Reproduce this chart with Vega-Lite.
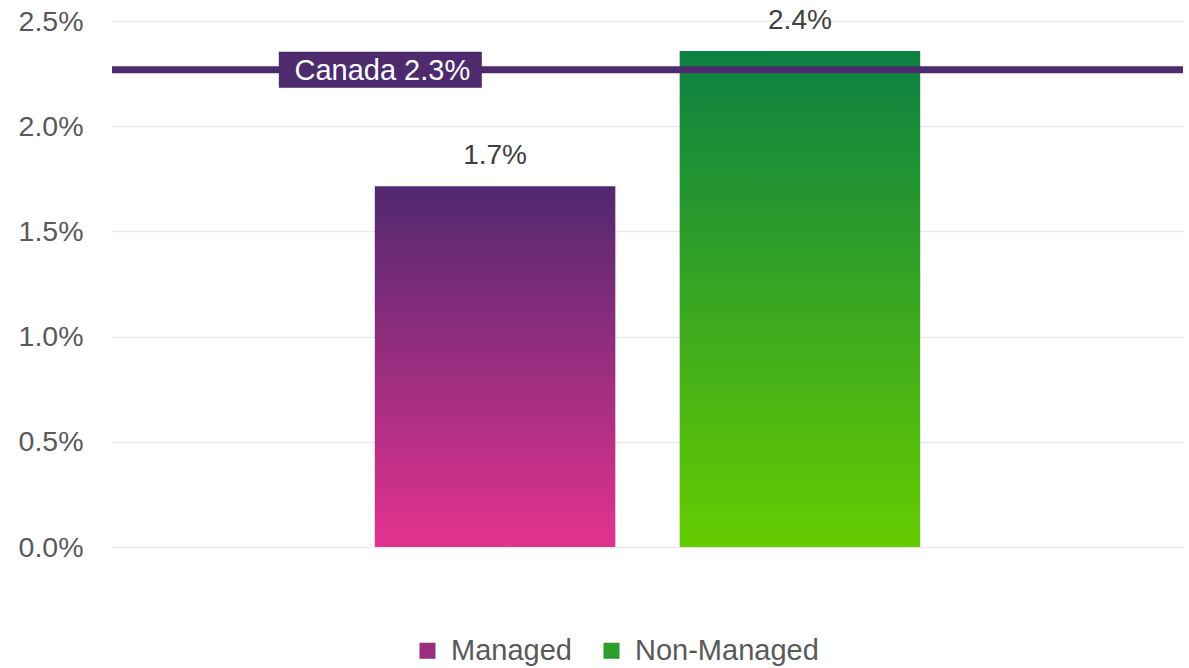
{
  "$schema": "https://vega.github.io/schema/vega-lite/v6.json",
  "width": 1071,
  "height": 526,
  "autosize": {"type": "none"},
  "padding": {"left": 112, "top": 21, "right": 6, "bottom": 121},
  "background": "white",
  "config": {
    "view": {"stroke": null},
    "font": "Liberation Sans"
  },
  "datasets": {
    "bars": [
      {"type": "Managed", "value": 0.01714},
      {"type": "Non-Managed", "value": 0.02358}
    ],
    "bench": [
      {"label": "Canada 2.3%", "cat": "Managed", "value": 0.02268}
    ]
  },
  "layer": [
    {
      "data": {"name": "bars"},
      "mark": {"type": "bar", "opacity": 0},
      "encoding": {
        "x": {"field": "type", "type": "nominal", "axis": null,
              "scale": {"paddingInner": 0.211, "paddingOuter": 0.862}},
        "y": {"field": "value", "type": "quantitative",
              "scale": {"domain": [0, 0.025], "nice": false},
              "axis": {"values": [0, 0.005, 0.01, 0.015, 0.02, 0.025], "format": ".1%",
                       "title": null, "domain": false, "ticks": false, "tickSize": 0,
                       "labelPadding": 29, "labelFontSize": 28.5, "labelColor": "#595959",
                       "labelFont": "Liberation Sans",
                       "gridColor": "#EAEAEA", "gridWidth": 1.5}},
        "color": {"field": "type", "type": "nominal",
                  "scale": {"range": ["#9A2D7F", "#2E9E2A"]},
                  "legend": {"title": null, "orient": "none", "direction": "horizontal",
                             "legendX": 301, "legendY": 615, "padding": 0,
                             "symbolType": "square", "symbolSize": 256,
                             "symbolStrokeWidth": 0, "symbolOpacity": 1, "labelOffset": 9, "columnPadding": 25,
                             "labelFontSize": 29, "labelColor": "#595959", "labelLimit": 400,
                             "labelFont": "Liberation Sans",
                             "encode": {"symbols": {"update": {
                               "opacity": {"value": 1},
                               "fill": [
                                 {"test": "datum.value === 'Managed'",
                                  "value": {"gradient": "linear", "x1": 0, "y1": 0, "x2": 1, "y2": 0,
                                            "stops": [{"offset": 0, "color": "#E3338F"}, {"offset": 1, "color": "#512870"}]}},
                                 {"value": {"gradient": "linear", "x1": 0, "y1": 0, "x2": 1, "y2": 0,
                                            "stops": [{"offset": 0, "color": "#66CC00"}, {"offset": 1, "color": "#0B8043"}]}}
                               ]
                             }}}}}
      }
    },
    {
      "data": {"name": "bars"},
      "mark": {"type": "bar"},
      "encoding": {
        "x": {"field": "type", "type": "nominal"},
        "y": {"field": "value", "type": "quantitative"},
        "fill": {
          "condition": {"test": "datum.type === 'Managed'",
                        "value": {"gradient": "linear", "x1": 0, "y1": 0, "x2": 0, "y2": 1,
                                  "stops": [{"offset": 0, "color": "#512870"}, {"offset": 1, "color": "#E3338F"}]}},
          "value": {"gradient": "linear", "x1": 0, "y1": 0, "x2": 0, "y2": 1,
                    "stops": [{"offset": 0, "color": "#0B8043"}, {"offset": 1, "color": "#66CC00"}]}
        }
      }
    },
    {
      "data": {"name": "bars"},
      "mark": {"type": "text", "baseline": "alphabetic", "dy": -22, "fontSize": 28, "color": "#404040", "font": "Liberation Sans"},
      "encoding": {
        "x": {"field": "type", "type": "nominal"},
        "y": {"field": "value", "type": "quantitative"},
        "text": {"field": "value", "type": "quantitative", "format": ".1%"}
      }
    },
    {
      "data": {"name": "bench"},
      "mark": {"type": "rule", "strokeWidth": 7, "color": "#4E2A6F"},
      "encoding": {
        "y": {"field": "value", "type": "quantitative"}
      }
    },
    {
      "data": {"name": "bench"},
      "mark": {"type": "point", "filled": true, "opacity": 1, "color": "#4E2A6F",
               "shape": "M-1,-0.1773H1V0.1773H-1Z", "size": 41209},
      "encoding": {
        "x": {"field": "cat", "type": "nominal", "bandPosition": 0.023},
        "y": {"field": "value", "type": "quantitative"}
      }
    },
    {
      "data": {"name": "bench"},
      "mark": {"type": "text", "baseline": "middle", "align": "center", "dx": 2, "dy": 1,
               "fontSize": 29, "color": "white", "font": "Liberation Sans"},
      "encoding": {
        "x": {"field": "cat", "type": "nominal", "bandPosition": 0.023},
        "y": {"field": "value", "type": "quantitative"},
        "text": {"field": "label", "type": "nominal"}
      }
    }
  ]
}
